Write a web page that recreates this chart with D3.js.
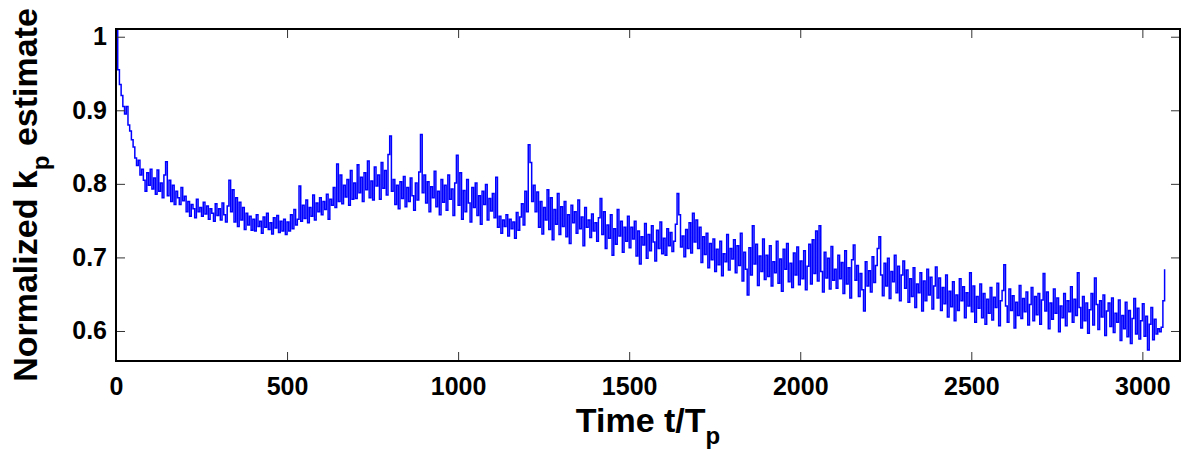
<!DOCTYPE html>
<html>
<head>
<meta charset="utf-8">
<title></title>
<style>
    body{ margin:0; padding:0; overflow:hidden; background:#fff; }
    text{ font-family:"Liberation Sans", Arial, sans-serif; font-weight:bold; fill:#000; }
</style>
</head>
<body>
<div id="chart"></div>
<script src="https://cdn.jsdelivr.net/npm/d3@7/dist/d3.min.js"></script>
<script>

// tick labels
var xTicks = [0, 500, 1000, 1500, 2000, 2500, 3000];
var yTicks = [0.6, 0.7, 0.8, 0.9, 1];

// sampling step of the estimate (time t/Tp)
var dt = 5;

// normalized kp estimate, one value every dt
var kp = [
 1.008,0.955,0.935,0.920,0.905,0.895,0.905,0.880,0.872,0.860,0.850,0.835,0.825,0.832,0.812,0.820,0.805,0.790,0.815,0.798,
 0.820,0.793,0.808,0.786,0.819,0.790,0.801,0.781,0.812,0.830,0.784,0.805,0.776,0.798,0.772,0.790,0.781,0.772,0.795,0.777,
 0.783,0.762,0.776,0.756,0.772,0.766,0.754,0.779,0.762,0.768,0.756,0.775,0.759,0.770,0.752,0.766,0.760,0.749,0.773,0.757,
 0.766,0.751,0.774,0.758,0.748,0.770,0.805,0.762,0.792,0.748,0.781,0.742,0.775,0.751,0.768,0.738,0.760,0.744,0.756,0.737,
 0.752,0.736,0.758,0.742,0.749,0.733,0.755,0.741,0.760,0.738,0.747,0.732,0.754,0.740,0.757,0.734,0.749,0.736,0.752,0.731,
 0.748,0.736,0.758,0.739,0.765,0.744,0.752,0.797,0.749,0.771,0.753,0.778,0.747,0.768,0.756,0.785,0.751,0.774,0.762,0.781,
 0.758,0.776,0.765,0.786,0.752,0.779,0.771,0.795,0.768,0.827,0.776,0.812,0.773,0.798,0.782,0.806,0.771,0.818,0.779,0.801,
 0.780,0.826,0.788,0.809,0.776,0.815,0.792,0.831,0.781,0.804,0.778,0.823,0.797,0.812,0.779,0.829,0.794,0.818,0.785,0.840,
 0.865,0.790,0.806,0.772,0.798,0.766,0.803,0.780,0.810,0.769,0.795,0.776,0.808,0.784,0.764,0.801,0.778,0.816,0.867,0.788,
 0.812,0.774,0.803,0.762,0.796,0.781,0.817,0.769,0.790,0.758,0.806,0.775,0.798,0.764,0.812,0.779,0.793,0.757,0.801,0.839,
 0.771,0.815,0.752,0.791,0.762,0.806,0.774,0.748,0.795,0.768,0.801,0.757,0.784,0.745,0.790,0.772,0.799,0.751,0.780,0.763,
 0.787,0.754,0.809,0.741,0.756,0.733,0.751,0.742,0.758,0.729,0.752,0.739,0.748,0.726,0.761,0.737,0.755,0.773,0.744,0.790,
 0.762,0.853,0.829,0.776,0.798,0.762,0.789,0.741,0.776,0.732,0.768,0.751,0.792,0.738,0.781,0.724,0.765,0.745,0.787,0.731,
 0.769,0.742,0.776,0.728,0.758,0.719,0.771,0.747,0.762,0.733,0.778,0.739,0.755,0.716,0.768,0.741,0.751,0.727,0.759,0.736,
 0.747,0.722,0.754,0.780,0.731,0.762,0.712,0.744,0.726,0.758,0.703,0.739,0.718,0.765,0.729,0.749,0.707,0.741,0.722,0.756,
 0.713,0.741,0.725,0.749,0.702,0.736,0.691,0.728,0.717,0.746,0.699,0.731,0.709,0.743,0.721,0.695,0.737,0.712,0.748,0.705,
 0.726,0.703,0.739,0.716,0.734,0.708,0.722,0.745,0.787,0.758,0.714,0.729,0.701,0.738,0.712,0.747,0.706,0.760,0.721,0.751,
 0.712,0.741,0.693,0.728,0.704,0.733,0.686,0.719,0.697,0.725,0.681,0.711,0.690,0.722,0.675,0.705,0.694,0.731,0.683,0.712,
 0.698,0.724,0.679,0.716,0.689,0.733,0.668,0.707,0.684,0.649,0.713,0.676,0.743,0.691,0.718,0.662,0.702,0.681,0.725,0.670,
 0.703,0.674,0.716,0.661,0.694,0.679,0.722,0.665,0.698,0.654,0.711,0.684,0.719,0.667,0.692,0.659,0.706,0.676,0.714,0.663,
 0.695,0.671,0.709,0.656,0.688,0.718,0.664,0.724,0.678,0.736,0.668,0.743,0.681,0.653,0.707,0.672,0.699,0.657,0.715,0.669,
 0.684,0.658,0.703,0.671,0.693,0.651,0.709,0.664,0.686,0.645,0.697,0.717,0.669,0.689,0.647,0.678,0.656,0.627,0.694,0.661,
 0.682,0.653,0.701,0.666,0.689,0.712,0.728,0.676,0.648,0.692,0.661,0.699,0.644,0.681,0.667,0.703,0.652,0.688,0.641,0.676,
 0.695,0.658,0.683,0.639,0.671,0.647,0.686,0.632,0.664,0.652,0.679,0.627,0.668,0.641,0.684,0.649,0.673,0.630,0.661,0.687,
 0.645,0.672,0.628,0.659,0.637,0.676,0.619,0.654,0.633,0.667,0.614,0.649,0.628,0.671,0.641,0.660,0.618,0.652,0.634,0.679,
 0.626,0.661,0.612,0.647,0.631,0.664,0.618,0.651,0.609,0.643,0.624,0.659,0.615,0.646,0.632,0.665,0.607,0.641,0.655,0.690,
 0.634,0.612,0.657,0.628,0.648,0.604,0.639,0.621,0.662,0.617,0.644,0.626,0.653,0.608,0.636,0.659,0.614,0.647,0.622,0.651,
 0.609,0.642,0.678,0.627,0.653,0.603,0.638,0.616,0.657,0.624,0.645,0.599,0.634,0.618,0.651,0.607,0.641,0.626,0.660,0.612,
 0.643,0.621,0.679,0.632,0.604,0.647,0.614,0.638,0.597,0.629,0.651,0.608,0.672,0.636,0.602,0.641,0.619,0.649,0.594,0.627,
 0.638,0.606,0.645,0.598,0.624,0.612,0.642,0.587,0.621,0.603,0.639,0.592,0.628,0.583,0.617,0.644,0.596,0.631,0.589,0.614,
 0.637,0.593,0.620,0.574,0.609,0.632,0.588,0.616,0.596,0.603,0.599,0.605,0.641,0.684
];

var width = 1181, height = 449;
// plot box (window.top is reserved, so m* names)
var mLeft = 116, mTop = 29, mRight = 1180, mBottom = 361;

var x = d3.scaleLinear().domain([0, 3110]).range([mLeft, mRight]);
var y = d3.scaleLinear().domain([0.5592, 1.0105]).range([mBottom, mTop]);

var svg = d3.select('#chart').append('svg')
    .attr('width', width)
    .attr('height', height);

svg.append('clipPath').attr('id', 'plot-clip')
    .append('rect')
    .attr('x', mLeft).attr('y', mTop)
    .attr('width', mRight - mLeft).attr('height', mBottom - mTop);

// the estimate, drawn as a held (step) signal like the original plot
var line = d3.line()
    .curve(d3.curveStepAfter)
    .x((d, i) => x(i * dt))
    .y(d => y(d));

svg.append('path')
    .datum(kp)
    .attr('clip-path', 'url(#plot-clip)')
    .attr('d', line)
    .style('fill', 'none')
    .style('stroke', '#0000ff')
    .style('stroke-width', 1.5);

// axes, ticks pointing inward on all four sides
svg.append('g').attr('transform', 'translate(0,' + mBottom + ')')
    .call(d3.axisBottom(x).tickValues(xTicks).tickFormat(d3.format('d')).tickSizeInner(-9).tickSizeOuter(0).tickPadding(16));
svg.append('g').attr('transform', 'translate(0,' + mTop + ')')
    .call(d3.axisTop(x).tickValues(xTicks).tickFormat('').tickSizeInner(-9).tickSizeOuter(0));
svg.append('g').attr('transform', 'translate(' + mLeft + ',0)')
    .call(d3.axisLeft(y).tickValues(yTicks).tickFormat(d => d === 1 ? '1' : d3.format('.1f')(d)).tickSizeInner(-9).tickSizeOuter(0).tickPadding(9));
svg.append('g').attr('transform', 'translate(' + mRight + ',0)')
    .call(d3.axisRight(y).tickValues(yTicks).tickFormat('').tickSizeInner(-9).tickSizeOuter(0));

svg.selectAll('.domain').remove();
svg.selectAll('.tick line').style('stroke', '#333').style('stroke-width', 1);
svg.selectAll('.tick text').style('font-size', '25px').attr('fill', '#000');

// box
svg.append('rect')
    .attr('x', mLeft).attr('y', mTop)
    .attr('width', mRight - mLeft).attr('height', mBottom - mTop)
    .style('fill', 'none').style('stroke', '#000').style('stroke-width', 2);

// axis labels
var xl = svg.append('text')
    .attr('x', (mLeft + mRight) / 2)
    .attr('y', 432)
    .attr('text-anchor', 'middle')
    .style('font-size', '34px');
xl.append('tspan').text('Time t/T');
xl.append('tspan').attr('dy', 12).style('font-size', '24px').text('p');

var yl = svg.append('text')
    .attr('transform', 'translate(37,' + ((mTop + mBottom) / 2) + ') rotate(-90)')
    .attr('text-anchor', 'middle')
    .style('font-size', '34px');
yl.append('tspan').text('Normalized k');
yl.append('tspan').attr('dy', 12).style('font-size', '24px').text('p');
yl.append('tspan').attr('dy', -12).text(' estimate');

</script>
</body>
</html>
